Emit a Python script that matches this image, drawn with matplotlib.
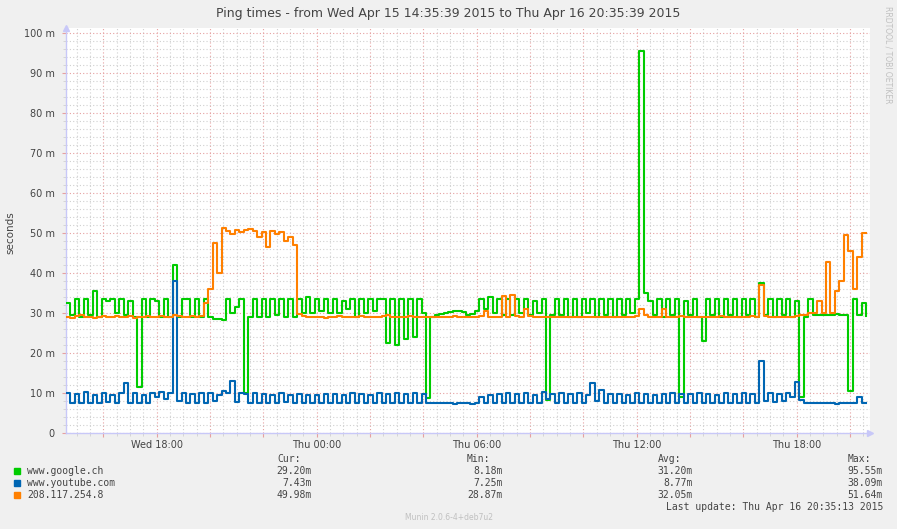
import numpy as np
import pandas as pd
import matplotlib
matplotlib.use('Agg')
import matplotlib.pyplot as plt
import matplotlib.dates as mdates
from matplotlib.ticker import MultipleLocator, FuncFormatter

# ping times in ms, one sample every 10 minutes
start = '2015-04-15 14:35:39'
end = '2015-04-16 20:35:39'

google = [
    32.5, 29.5, 33.5, 29.0, 33.5, 29.5, 35.5, 29.0, 33.5, 33.0,
    33.5, 30.0, 33.5, 29.5, 33.0, 29.0, 11.5, 33.5, 29.0, 33.5,
    33.0, 29.0, 33.5, 29.0, 42.0, 29.0, 33.5, 33.5, 29.0, 33.5,
    29.0, 33.5, 29.0, 28.5, 28.5, 28.3, 33.5, 30.0, 31.5, 33.5,
    10.0, 29.0, 33.5, 29.0, 33.5, 29.0, 33.5, 29.5, 33.5, 29.0,
    33.5, 29.0, 33.5, 30.0, 34.0, 30.0, 33.5, 30.5, 33.5, 30.0,
    33.5, 30.0, 33.0, 31.0, 33.5, 29.0, 33.5, 30.0, 33.5, 30.5,
    33.5, 33.5, 22.5, 33.5, 22.0, 33.5, 23.5, 33.5, 24.0, 33.5,
    30.0, 8.8, 29.0, 29.6, 29.8, 30.0, 30.3, 30.5, 30.5, 30.2,
    29.5, 29.8, 30.5, 33.5, 31.0, 34.0, 30.0, 33.5, 29.5, 33.5,
    29.5, 33.5, 30.0, 33.5, 29.5, 33.0, 30.0, 33.5, 8.3, 29.5,
    33.5, 29.5, 33.5, 29.0, 33.5, 29.0, 33.5, 30.0, 33.5, 29.0,
    33.5, 29.5, 33.5, 29.0, 33.5, 29.5, 33.5, 30.0, 33.5, 95.5,
    35.0, 33.0, 29.5, 33.5, 29.0, 33.5, 29.5, 33.5, 9.0, 33.0,
    29.5, 33.5, 29.0, 23.0, 33.5, 29.5, 33.5, 29.0, 33.5, 29.5,
    33.5, 29.0, 33.5, 29.5, 33.5, 29.0, 37.5, 29.5, 33.5, 29.0,
    33.5, 29.5, 33.5, 29.0, 33.0, 9.0, 29.0, 33.5, 29.5, 29.5,
    29.5, 29.5, 29.6, 29.7, 29.6, 29.5, 10.5, 33.5, 29.5, 32.5,
    29.2,
]

youtube = [
    10.0, 7.5, 9.8, 7.4, 10.2, 7.6, 9.5, 7.5, 10.0, 7.8,
    9.5, 7.4, 10.0, 12.5, 7.5, 10.0, 7.6, 9.5, 7.5, 10.0,
    9.0, 10.2, 8.5, 10.0, 38.0, 8.0, 10.0, 7.5, 9.8, 7.5,
    10.0, 7.5, 10.0, 8.0, 9.5, 10.5, 10.0, 13.0, 7.8, 10.0,
    9.8, 7.5, 10.0, 7.6, 9.8, 7.5, 9.5, 7.5, 10.0, 7.8,
    9.5, 7.4, 9.8, 7.5, 9.5, 7.4, 9.6, 7.5, 9.8, 7.4,
    9.8, 7.5, 9.6, 7.4, 10.0, 7.5, 9.8, 7.6, 9.5, 7.4,
    10.0, 7.5, 9.8, 7.6, 10.0, 7.5, 9.8, 7.4, 10.0, 7.5,
    9.8, 7.4, 7.6, 7.5, 7.4, 7.6, 7.5, 7.3, 7.5, 7.6,
    7.4, 7.3, 7.6, 9.0, 7.6, 9.5, 7.5, 9.8, 7.5, 10.0,
    7.6, 9.8, 7.5, 10.0, 7.4, 9.5, 7.5, 10.2, 8.5, 9.8,
    7.5, 10.0, 7.6, 9.8, 7.5, 10.0, 7.4, 9.5, 12.5, 8.0,
    10.8, 7.5, 9.8, 7.4, 9.8, 7.5, 9.6, 7.4, 10.0, 7.5,
    9.8, 7.6, 9.5, 7.5, 9.8, 7.4, 10.0, 7.5, 9.8, 7.4,
    9.8, 7.5, 10.0, 7.4, 9.8, 7.5, 9.6, 7.5, 10.0, 7.4,
    9.8, 7.5, 10.0, 7.5, 9.8, 7.6, 18.0, 8.0, 10.0, 7.8,
    9.8, 8.0, 10.0, 9.0, 12.7, 8.2, 7.4, 7.6, 7.5, 7.4,
    7.5, 7.6, 7.4, 7.3, 7.5, 7.4, 7.5, 7.4, 9.0, 7.5,
    7.43,
]

other = [
    29.0, 28.8, 29.2, 29.4, 28.9, 29.1, 28.8, 29.0, 29.2, 28.9,
    29.0, 29.3, 28.9, 29.0, 29.2, 28.8, 29.1, 29.0, 29.3, 28.9,
    29.0, 29.2, 29.0, 29.1, 29.6, 29.2, 29.0, 29.1, 29.3, 29.0,
    29.3, 32.5, 36.0, 47.5, 40.0, 51.2, 50.5, 49.8, 50.8, 50.2,
    50.8, 51.0, 50.5, 49.0, 50.3, 46.5, 50.5, 49.8, 50.2, 48.0,
    49.0, 47.0, 29.8, 29.2, 29.0, 29.1, 28.9, 29.0, 28.8, 29.0,
    29.0, 29.2, 28.9, 29.1, 29.0, 28.9, 29.2, 29.0, 29.1, 28.9,
    29.0, 29.3, 29.5, 29.0, 28.9, 29.1, 29.0, 29.2, 28.9, 29.0,
    29.0, 29.1, 28.9, 29.0, 29.1, 29.0, 28.9, 29.2, 29.0, 29.1,
    29.0, 29.1, 29.0, 29.2, 30.5, 29.0, 29.0, 29.1, 34.2, 29.0,
    34.5, 29.2, 29.0, 31.0, 29.2, 29.0, 29.1, 29.0, 29.0, 28.9,
    29.0, 29.1, 28.9, 29.0, 29.1, 29.0, 28.9, 29.0, 29.1, 29.0,
    29.0, 29.1, 28.9, 29.0, 29.1, 29.0, 28.9, 29.0, 29.2, 31.0,
    29.5, 29.0, 29.1, 29.0, 31.0, 29.0, 29.0, 28.9, 29.2, 29.0,
    29.0, 29.1, 28.9, 29.0, 29.1, 29.0, 29.0, 29.2, 28.9, 29.0,
    29.0, 29.1, 28.9, 29.0, 29.2, 29.0, 37.0, 29.3, 29.0, 29.1,
    29.0, 28.9, 29.1, 29.0, 29.3, 29.4, 29.6, 30.0, 30.0, 33.0,
    30.0, 42.8, 30.0, 35.5, 38.0, 49.6, 45.5, 36.0, 44.0, 50.0,
    49.98,
]

names = ['www.google.ch', 'www.youtube.com', '208.117.254.8']
colors = ['#00CC00', '#0066B3', '#FF8000']
cur = ['29.20m', '7.43m', '49.98m']
mins = ['8.18m', '7.25m', '28.87m']
avgs = ['31.20m', '8.77m', '32.05m']
maxs = ['95.55m', '38.09m', '51.64m']

times = pd.date_range(start, periods=len(google), freq='10min')

W, H = 897, 529
fig = plt.figure(figsize=(W / 100, H / 100), dpi=100, facecolor='#F0F0F0')
ax = fig.add_axes([66 / W, 96 / H, 804 / W, 405 / H])
ax.set_facecolor('white')

for vals, c in zip([google, youtube, other], colors):
    ax.plot(times, vals, color=c, lw=1.5, drawstyle='steps-post', zorder=3)

ax.set_xlim(pd.Timestamp(start), pd.Timestamp(end) + pd.Timedelta(minutes=9))
ax.set_ylim(0, 101.25)

# grid like rrdtool
ax.xaxis.set_major_locator(mdates.HourLocator(interval=2))
ax.xaxis.set_minor_locator(mdates.MinuteLocator(byminute=[0, 30]))
def xfmt(x, pos):
    d = mdates.num2date(x)
    return d.strftime('%a %H:%M') if d.hour % 6 == 0 else ''
ax.xaxis.set_major_formatter(FuncFormatter(xfmt))
ax.yaxis.set_major_locator(MultipleLocator(10))
ax.yaxis.set_minor_locator(MultipleLocator(2))
ax.yaxis.set_major_formatter(FuncFormatter(lambda v, p: '0' if v == 0 else '%d m' % v))

ax.grid(which='minor', color='#D0D0D0', lw=0.8, ls=(0, (1, 2)))
ax.grid(which='major', color='#E6A0A0', lw=0.8, ls=(0, (1, 2)))
ax.set_axisbelow(True)

ax.tick_params(which='major', length=3, color='#E6A0A0', labelsize=7, labelcolor='#444444')
ax.tick_params(which='minor', length=2, color='#D0D0D0')
ax.tick_params(axis='y', pad=5)
ax.tick_params(axis='x', pad=2)

for s in ['top', 'right']:
    ax.spines[s].set_visible(False)
for s in ['left', 'bottom']:
    ax.spines[s].set_color('#C8C8F8')
    ax.spines[s].set_linewidth(1)
ax.plot([0], [1.0], marker='^', color='#C8C8F8', ms=5, transform=ax.transAxes, clip_on=False)
ax.plot([1.0], [0], marker='>', color='#C8C8F8', ms=5, transform=ax.transAxes, clip_on=False)

def ftext(x, y, s, **kw):
    fig.text(x / W, 1 - y / H, s, **kw)

ftext(448, 14, 'Ping times - from Wed Apr 15 14:35:39 2015 to Thu Apr 16 20:35:39 2015',
      ha='center', va='center', fontsize=9, color='#444444')
ftext(10, 233, 'seconds', rotation=90, ha='center', va='center', fontsize=7.5, color='#444444')
ftext(888, 6, 'RRDTOOL / TOBI OETIKER', rotation=-90, ha='center', va='top', fontsize=5.5, color='#C0C0C0')

mono = dict(family='DejaVu Sans Mono', fontsize=7, color='#444444', va='center')
ftext(277, 459, 'Cur:', ha='left', **mono)
ftext(467, 459, 'Min:', ha='left', **mono)
ftext(658, 459, 'Avg:', ha='left', **mono)
ftext(848, 459, 'Max:', ha='left', **mono)
for i, name in enumerate(names):
    y = 470.5 + i * 12
    fig.patches.append(plt.Rectangle((14 / W, 1 - (y + 3) / H), 6 / W, 6 / H,
                                     transform=fig.transFigure, color=colors[i]))
    ftext(27, y, name, ha='left', **mono)
    ftext(312, y, cur[i], ha='right', **mono)
    ftext(503, y, mins[i], ha='right', **mono)
    ftext(693, y, avgs[i], ha='right', **mono)
    ftext(883, y, maxs[i], ha='right', **mono)
ftext(883, 507, 'Last update: Thu Apr 16 20:35:13 2015', ha='right', **mono)
ftext(449, 518, 'Munin 2.0.6-4+deb7u2', ha='center', va='center', fontsize=5.5, color='#C0C0C0')

fig.savefig('out.png', dpi=100, facecolor=fig.get_facecolor())
